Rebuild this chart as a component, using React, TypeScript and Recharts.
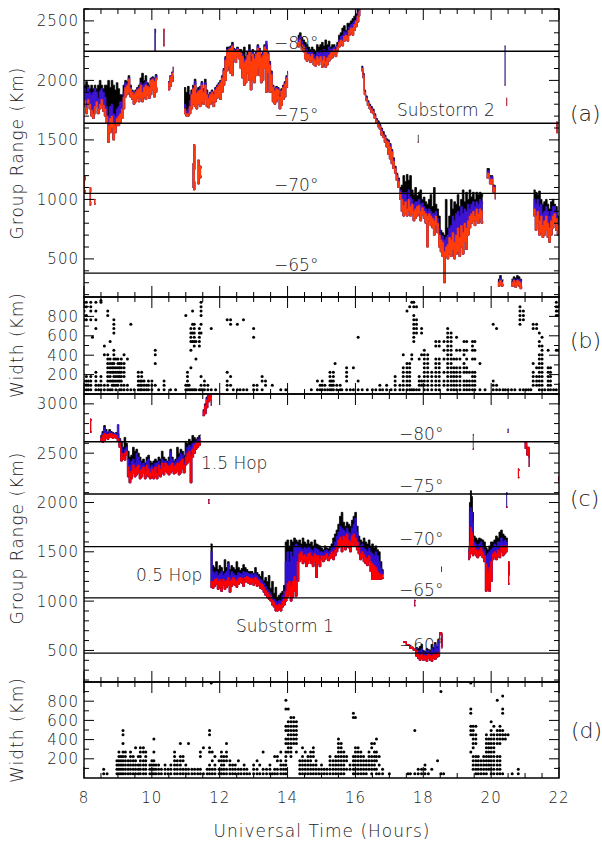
import React from "react"
import { ComposedChart, Area, Scatter, XAxis, YAxis, ReferenceLine, ReferenceArea } from "recharts"

const FONT = "'DejaVu Sans', sans-serif"
const L = 84
const R = 559

// x axis: universal time, hours
const hourTicks = [8, 8.5, 9, 9.5, 10, 10.5, 11, 11.5, 12, 12.5, 13, 13.5, 14, 14.5, 15, 15.5, 16, 16.5, 17, 17.5, 18, 18.5, 19, 19.5, 20, 20.5, 21, 21.5, 22]

// y axis ticks
const rangeTicksA = [200, 300, 400, 500, 600, 700, 800, 900, 1000, 1100, 1200, 1300, 1400, 1500, 1600, 1700, 1800, 1900, 2000, 2100, 2200, 2300, 2400, 2500, 2600]
const rangeTicksC = [200, 300, 400, 500, 600, 700, 800, 900, 1000, 1100, 1200, 1300, 1400, 1500, 1600, 1700, 1800, 1900, 2000, 2100, 2200, 2300, 2400, 2500, 2600, 2700, 2800, 2900, 3000, 3100]
const rangeLabels = [500, 1000, 1500, 2000, 2500, 3000]
const widthTicks = [100, 200, 300, 400, 500, 600, 700, 800, 900]
const widthLabels = [200, 400, 600, 800]

// latitude lines (group range, km)
const aLines = [2245, 1640, 1050, 380]
const cLines = [2616, 2086, 1552, 1032, 472]

// panel (a) echoes: [UT, red bottom, red top, blue top, black top]
const a01 = [
  [8.0, 1780, 1830, 1930, 1960], [8.05, 1720, 1770, 1900, 1990], [8.1, 1800, 1840, 1940, 1960],
  [8.15, 1760, 1800, 1900, 1930], [8.2, 1700, 1750, 1880, 1960], [8.25, 1680, 1720, 1900, 1930],
  [8.3, 1720, 1780, 1930, 1960], [8.35, 1780, 1820, 1900, 1930], [8.4, 1720, 1760, 1850, 1960],
  [8.45, 1760, 1800, 1910, 2000], [8.5, 1800, 1840, 1930, 1960], [8.55, 1740, 1790, 1900, 1930],
  [8.6, 1700, 1760, 1860, 1960], [8.65, 1640, 1700, 1780, 1960], [8.7, 1480, 1620, 1700, 2000],
  [8.75, 1560, 1680, 1780, 1940], [8.8, 1600, 1700, 1800, 2000], [8.85, 1500, 1640, 1720, 1960],
  [8.9, 1560, 1620, 1700, 1920], [8.95, 1620, 1680, 1760, 1980], [9.0, 1620, 1700, 1780, 1930],
  [9.05, 1640, 1720, 1820, 1880], [9.1, 1680, 1760, 1820, 1880], [9.15, 1760, 1860, 1900, 1960],
  [9.2, 1860, 1940, 1980, 2000], [9.25, 1880, 1960, 1970, 1990], [9.3, 1900, 2010, 2020, 2040],
  [9.35, 1860, 1930, 1940, 1960], [9.4, 1840, 1900, 1910, 1920], [9.45, 1800, 1880, 1890, 1900],
  [9.5, 1820, 1900, 1910, 1920], [9.55, 1850, 1920, 1930, 1940], [9.6, 1820, 1930, 1940, 1960],
  [9.65, 1850, 1960, 1980, 2020], [9.7, 1820, 1900, 1960, 2060], [9.75, 1860, 1940, 1970, 2000],
  [9.8, 1840, 1960, 1990, 2040], [9.85, 1880, 1950, 1960, 1980], [9.9, 1850, 1940, 1950, 1960],
  [9.95, 1880, 2000, 2010, 2020], [10.0, 1920, 2010, 2020, 2030], [10.05, 1860, 1990, 2010, 2020],
  [10.1, 1900, 2020, 2040, 2050], [10.15, 1940, 2000, 2005, 2010],
]
const a02 = [[10.08, 2250, 2250, 2430, 2430], [10.11, 2260, 2260, 2400, 2400]]
const a03 = [[10.34, 2290, 2430, 2430, 2430], [10.37, 2300, 2420, 2420, 2420]]
const a04 = [[10.48, 1920, 1980, 1990, 1990], [10.53, 1950, 2030, 2040, 2040], [10.58, 1990, 2060, 2070, 2070], [10.63, 2040, 2110, 2115, 2115]]
const a05 = [
  [10.95, 1720, 1760, 1800, 1940], [11.0, 1700, 1720, 1740, 1900], [11.05, 1700, 1720, 1760, 1950],
  [11.1, 1720, 1780, 1830, 1880], [11.15, 1760, 1880, 1900, 1920], [11.2, 1800, 1930, 1940, 1960],
  [11.25, 1780, 1960, 1990, 2010], [11.3, 1760, 1890, 1900, 1920], [11.35, 1800, 1910, 1920, 1940],
  [11.4, 1780, 1920, 1940, 1950], [11.45, 1820, 1960, 1980, 1990], [11.5, 1800, 1900, 1920, 1930],
  [11.55, 1840, 1960, 1980, 2010], [11.6, 1780, 1880, 1900, 1920], [11.65, 1770, 1850, 1870, 1880],
  [11.7, 1800, 1880, 1890, 1900], [11.75, 1820, 1900, 1910, 1920], [11.8, 1780, 1880, 1890, 1900],
  [11.85, 1820, 1920, 1930, 1940], [11.9, 1850, 1940, 1950, 1960], [11.95, 1860, 1960, 1970, 1980],
  [12.0, 1840, 1980, 1990, 2000], [12.05, 1900, 2020, 2030, 2040], [12.1, 1960, 2080, 2090, 2100],
  [12.15, 2000, 2170, 2190, 2200], [12.2, 2080, 2250, 2260, 2280], [12.25, 2120, 2260, 2270, 2280],
  [12.3, 2060, 2270, 2280, 2290], [12.35, 2040, 2290, 2300, 2320], [12.4, 2180, 2250, 2260, 2270],
  [12.45, 2150, 2240, 2250, 2260], [12.5, 2200, 2260, 2270, 2280], [12.55, 2180, 2240, 2250, 2260],
  [12.6, 2100, 2230, 2240, 2260], [12.65, 2020, 2200, 2220, 2240], [12.7, 1960, 2150, 2180, 2280],
  [12.75, 1980, 2170, 2190, 2200], [12.8, 2060, 2210, 2220, 2240], [12.85, 2000, 2240, 2260, 2300],
  [12.9, 1920, 2160, 2180, 2200], [12.95, 2000, 2220, 2240, 2260], [13.0, 1980, 2180, 2200, 2220],
  [13.05, 2040, 2220, 2230, 2240], [13.1, 2100, 2270, 2290, 2300], [13.15, 2040, 2240, 2260, 2270],
  [13.2, 1980, 2190, 2210, 2220], [13.25, 2000, 2210, 2230, 2240], [13.3, 2100, 2280, 2290, 2300],
  [13.35, 1900, 2260, 2330, 2300], [13.4, 2060, 2220, 2230, 2240], [13.45, 1900, 2130, 2150, 2160],
  [13.5, 1900, 2050, 2070, 2080], [13.55, 1820, 1940, 1950, 1960], [13.6, 1800, 1910, 1920, 1930],
  [13.65, 1820, 1930, 1940, 1950], [13.7, 1840, 1920, 1930, 1940], [13.75, 1760, 1860, 1870, 1880],
  [13.8, 1790, 1910, 1920, 1930], [13.85, 1840, 1940, 1950, 1960], [13.9, 1860, 1970, 1980, 1990],
  [13.95, 1940, 2020, 2030, 2040], [14.0, 2020, 2060, 2070, 2080],
]
const a06 = [
  [14.3, 2280, 2320, 2350, 2380], [14.35, 2300, 2340, 2370, 2400], [14.4, 2260, 2300, 2330, 2360],
  [14.45, 2240, 2280, 2300, 2340], [14.5, 2180, 2240, 2280, 2320], [14.55, 2160, 2220, 2260, 2300],
  [14.6, 2180, 2220, 2240, 2280], [14.65, 2150, 2200, 2240, 2260], [14.7, 2170, 2220, 2250, 2280],
  [14.75, 2130, 2180, 2220, 2260], [14.8, 2120, 2170, 2200, 2240], [14.85, 2150, 2200, 2240, 2300],
  [14.9, 2130, 2180, 2230, 2280], [14.95, 2160, 2200, 2250, 2300], [15.0, 2110, 2170, 2230, 2320],
  [15.05, 2140, 2200, 2260, 2290], [15.1, 2110, 2160, 2240, 2340], [15.15, 2130, 2190, 2250, 2300],
  [15.2, 2160, 2210, 2280, 2330], [15.25, 2180, 2230, 2260, 2280], [15.3, 2190, 2240, 2270, 2300],
  [15.35, 2220, 2260, 2280, 2300], [15.4, 2200, 2240, 2260, 2280], [15.45, 2240, 2280, 2300, 2320],
  [15.5, 2280, 2320, 2340, 2380], [15.55, 2300, 2340, 2370, 2400], [15.6, 2290, 2330, 2380, 2440],
  [15.65, 2330, 2370, 2410, 2460], [15.7, 2340, 2380, 2400, 2420], [15.75, 2330, 2370, 2420, 2480],
  [15.8, 2380, 2420, 2450, 2480], [15.85, 2400, 2440, 2470, 2500], [15.9, 2380, 2440, 2480, 2520],
  [15.95, 2420, 2470, 2500, 2540], [16.0, 2450, 2500, 2530, 2560], [16.05, 2490, 2540, 2570, 2600],
  [16.1, 2540, 2580, 2600, 2600], [16.13, 2600, 2600, 2600, 2600],
]
const a07 = [
  [16.18, 2080, 2100, 2110, 2120], [16.22, 2020, 2040, 2050, 2060], [16.26, 1880, 1900, 1910, 1920],
  [16.3, 1830, 1850, 1860, 1870], [16.35, 1790, 1810, 1820, 1830], [16.4, 1760, 1780, 1790, 1800],
  [16.45, 1730, 1760, 1770, 1780], [16.5, 1720, 1740, 1750, 1760], [16.55, 1680, 1700, 1710, 1720],
  [16.6, 1640, 1660, 1670, 1680], [16.65, 1610, 1640, 1650, 1660], [16.7, 1590, 1610, 1620, 1630],
  [16.75, 1540, 1570, 1590, 1600], [16.8, 1520, 1540, 1550, 1570], [16.85, 1480, 1520, 1530, 1540],
  [16.9, 1440, 1490, 1500, 1510], [16.95, 1380, 1480, 1490, 1500], [17.0, 1340, 1440, 1460, 1470],
  [17.05, 1300, 1400, 1410, 1420], [17.1, 1260, 1320, 1340, 1350], [17.15, 1220, 1260, 1270, 1280],
  [17.2, 1160, 1200, 1210, 1220], [17.25, 1100, 1150, 1170, 1180], [17.3, 1000, 1060, 1080, 1100],
  [17.35, 900, 1000, 1060, 1120], [17.4, 860, 950, 1040, 1200], [17.45, 880, 980, 1060, 1150],
  [17.5, 860, 920, 1000, 1210], [17.55, 900, 1000, 1080, 1160], [17.6, 860, 940, 1020, 1200],
  [17.65, 880, 960, 1000, 1080], [17.7, 820, 900, 960, 1040], [17.75, 840, 920, 980, 1100],
  [17.8, 860, 940, 980, 1030], [17.85, 880, 950, 1000, 1060], [17.9, 820, 900, 960, 1080],
  [17.95, 870, 930, 970, 1000], [18.0, 840, 900, 940, 1020], [18.05, 800, 880, 920, 980],
  [18.1, 600, 860, 900, 960], [18.15, 820, 880, 920, 1000], [18.2, 780, 860, 900, 1040],
  [18.25, 760, 840, 880, 940], [18.3, 700, 820, 880, 1100], [18.35, 780, 860, 900, 960],
  [18.4, 720, 800, 840, 920], [18.45, 600, 700, 760, 860], [18.5, 560, 660, 700, 740],
  [18.55, 520, 640, 690, 720], [18.6, 300, 560, 660, 700], [18.65, 520, 600, 680, 1000],
  [18.7, 500, 620, 700, 760], [18.75, 540, 680, 760, 860], [18.8, 520, 660, 780, 1000],
  [18.85, 580, 720, 860, 920], [18.9, 500, 640, 820, 980], [18.95, 540, 700, 880, 960],
  [19.0, 560, 760, 900, 1040], [19.05, 520, 680, 860, 940], [19.1, 600, 780, 940, 1000],
  [19.15, 540, 720, 880, 1080], [19.2, 640, 800, 920, 980], [19.25, 580, 760, 900, 1060],
  [19.3, 700, 820, 960, 1000], [19.35, 760, 860, 920, 1080], [19.4, 800, 880, 960, 1020],
  [19.45, 820, 900, 980, 1060], [19.5, 780, 860, 940, 1000], [19.55, 820, 920, 980, 1060],
  [19.6, 800, 880, 960, 1040], [19.65, 840, 920, 1000, 1060], [19.7, 800, 900, 980, 1050],
  [19.75, 820, 880, 960, 1020],
]
const a08 = [[17.84, 1480, 1480, 1480, 1540], [17.86, 1480, 1480, 1480, 1540]]
const a09 = [[19.87, 1180, 1220, 1240, 1260], [19.95, 1130, 1170, 1190, 1200], [20.05, 1060, 1100, 1110, 1120], [20.12, 1000, 1020, 1050, 1060]]
const a10 = [[20.2, 270, 300, 310, 330], [20.25, 280, 320, 340, 360], [20.3, 270, 300, 310, 320], [20.35, 290, 310, 320, 330]]
const a11 = [[20.4, 1960, 1960, 2290, 2290], [20.42, 1960, 1960, 2290, 2290]]
const a12 = [[20.45, 1790, 1850, 1850, 1850], [20.47, 1790, 1850, 1850, 1850]]
const a13 = [[20.6, 270, 300, 310, 330], [20.65, 280, 320, 330, 350], [20.7, 260, 300, 320, 340], [20.75, 280, 320, 330, 360], [20.8, 270, 310, 330, 350], [20.85, 250, 300, 320, 330], [20.9, 270, 300, 310, 320]]
const a14 = [
  [21.25, 860, 920, 1000, 1080], [21.3, 740, 860, 960, 1060], [21.35, 800, 900, 1000, 1040],
  [21.4, 700, 820, 940, 1070], [21.45, 720, 860, 960, 1000], [21.5, 680, 780, 880, 960],
  [21.55, 700, 820, 900, 980], [21.6, 740, 860, 940, 1000], [21.65, 680, 800, 900, 960],
  [21.7, 640, 760, 860, 920], [21.75, 700, 820, 900, 980], [21.8, 760, 860, 940, 1000],
  [21.85, 800, 880, 940, 960], [21.9, 740, 840, 900, 940], [21.95, 700, 780, 820, 860], [22.0, 720, 760, 800, 840],
]
const a15 = [[21.92, 1560, 1650, 1650, 1650], [21.96, 1570, 1640, 1640, 1640]]
const a16 = [[8.0, 1050, 1200, 1200, 1200], [8.03, 1080, 1160, 1160, 1160]]
const a17 = [[8.17, 950, 1100, 1100, 1100], [8.2, 980, 1060, 1060, 1060]]
const a18 = [[8.3, 960, 1000, 1000, 1000], [8.33, 965, 995, 995, 995]]
const a19 = [[11.2, 1100, 1300, 1300, 1300], [11.23, 1080, 1460, 1460, 1460], [11.27, 1150, 1250, 1250, 1250]]
const a20 = [[11.35, 1130, 1330, 1330, 1330], [11.4, 1180, 1280, 1280, 1280], [11.45, 1200, 1260, 1260, 1260]]

// panel (c) echoes: [UT, red bottom, red top, blue top, black top]
const c01 = [[8.18, 2710, 2846, 2846, 2846], [8.21, 2720, 2830, 2830, 2830]]
const c02 = [
  [8.48, 2620, 2650, 2660, 2680], [8.53, 2610, 2680, 2700, 2720], [8.58, 2630, 2700, 2760, 2780],
  [8.63, 2650, 2690, 2720, 2740], [8.68, 2640, 2690, 2700, 2710], [8.73, 2660, 2700, 2720, 2740],
  [8.78, 2660, 2700, 2710, 2720], [8.83, 2650, 2690, 2700, 2710], [8.88, 2660, 2690, 2700, 2700],
  [8.93, 2650, 2680, 2700, 2710], [8.98, 2620, 2650, 2790, 2700], [9.03, 2560, 2620, 2640, 2650],
  [9.08, 2420, 2500, 2560, 2620], [9.13, 2440, 2460, 2500, 2560], [9.18, 2430, 2500, 2540, 2660],
  [9.23, 2480, 2520, 2560, 2600], [9.28, 2260, 2360, 2440, 2520], [9.33, 2200, 2300, 2380, 2460],
  [9.38, 2240, 2320, 2420, 2480], [9.43, 2300, 2380, 2440, 2560], [9.48, 2260, 2340, 2400, 2520],
  [9.53, 2280, 2360, 2500, 2540], [9.58, 2300, 2380, 2460, 2500], [9.63, 2240, 2320, 2420, 2460],
  [9.68, 2260, 2340, 2380, 2420], [9.73, 2300, 2360, 2400, 2440], [9.78, 2240, 2320, 2360, 2400],
  [9.83, 2280, 2380, 2420, 2460], [9.88, 2260, 2340, 2440, 2480], [9.93, 2240, 2300, 2360, 2420],
  [9.98, 2260, 2340, 2380, 2400], [10.03, 2240, 2320, 2360, 2420], [10.08, 2260, 2360, 2400, 2440],
  [10.13, 2240, 2300, 2400, 2420], [10.18, 2280, 2380, 2420, 2460], [10.23, 2260, 2340, 2380, 2440],
  [10.28, 2300, 2400, 2440, 2520], [10.33, 2280, 2360, 2420, 2460], [10.38, 2320, 2400, 2420, 2440],
  [10.43, 2300, 2380, 2400, 2420], [10.48, 2280, 2360, 2420, 2460], [10.53, 2300, 2380, 2520, 2540],
  [10.58, 2320, 2400, 2440, 2460], [10.63, 2290, 2360, 2400, 2420], [10.68, 2300, 2380, 2420, 2440],
  [10.73, 2320, 2400, 2440, 2560], [10.78, 2280, 2400, 2460, 2500], [10.83, 2300, 2420, 2500, 2540],
  [10.88, 2340, 2440, 2480, 2520], [10.93, 2300, 2380, 2420, 2480], [10.98, 2380, 2460, 2520, 2620],
  [11.03, 2400, 2500, 2560, 2600], [11.08, 2420, 2520, 2580, 2640], [11.13, 2200, 2480, 2560, 2620],
  [11.18, 2460, 2540, 2600, 2680], [11.23, 2500, 2580, 2620, 2660], [11.28, 2540, 2600, 2620, 2640],
  [11.33, 2560, 2610, 2640, 2660], [11.38, 2580, 2620, 2650, 2680], [11.43, 2600, 2640, 2660, 2690],
]
const c03 = [[11.5, 2880, 2920, 2930, 2940], [11.55, 2900, 2980, 2990, 3000], [11.6, 2960, 3040, 3060, 3070], [11.65, 3020, 3080, 3090, 3100], [11.7, 3040, 3090, 3100, 3100], [11.75, 2980, 3040, 3060, 3070]]
const c04 = [[11.67, 1990, 2030, 2030, 2030], [11.69, 1995, 2025, 2025, 2025]]
const c05 = [
  [11.73, 1140, 1200, 1500, 1580], [11.78, 1130, 1200, 1300, 1360], [11.83, 1150, 1220, 1280, 1340],
  [11.88, 1170, 1230, 1300, 1400], [11.93, 1120, 1200, 1260, 1320], [11.98, 1140, 1220, 1280, 1360],
  [12.03, 1100, 1200, 1300, 1340], [12.08, 1160, 1220, 1260, 1300], [12.13, 1120, 1200, 1280, 1420],
  [12.18, 1140, 1210, 1300, 1340], [12.23, 1160, 1240, 1380, 1400], [12.28, 1090, 1200, 1260, 1320],
  [12.33, 1150, 1220, 1300, 1360], [12.38, 1170, 1240, 1280, 1340], [12.43, 1160, 1220, 1260, 1320],
  [12.48, 1140, 1200, 1260, 1400], [12.53, 1170, 1230, 1290, 1340], [12.58, 1190, 1240, 1280, 1310],
  [12.63, 1180, 1230, 1270, 1330], [12.68, 1150, 1210, 1300, 1370], [12.73, 1190, 1240, 1290, 1340],
  [12.78, 1200, 1250, 1290, 1320], [12.83, 1180, 1240, 1280, 1300], [12.88, 1170, 1230, 1270, 1300],
  [12.93, 1190, 1230, 1280, 1300], [12.98, 1160, 1220, 1260, 1280], [13.03, 1180, 1240, 1280, 1340],
  [13.08, 1150, 1220, 1260, 1290], [13.13, 1160, 1210, 1240, 1270], [13.18, 1130, 1180, 1220, 1250],
  [13.23, 1120, 1170, 1210, 1300], [13.28, 1090, 1140, 1180, 1210], [13.33, 1060, 1110, 1150, 1240],
  [13.38, 1040, 1090, 1120, 1200], [13.43, 1020, 1070, 1100, 1260], [13.48, 1000, 1050, 1080, 1130],
  [13.53, 960, 1010, 1040, 1200], [13.58, 940, 990, 1020, 1080], [13.63, 900, 960, 1000, 1140],
  [13.68, 900, 950, 990, 1040], [13.73, 920, 970, 1010, 1060], [13.78, 900, 960, 1000, 1080],
  [13.83, 940, 1000, 1060, 1100], [13.88, 960, 1040, 1100, 1160], [13.93, 1000, 1100, 1400, 1600],
  [13.98, 1040, 1180, 1500, 1620], [14.03, 1060, 1200, 1400, 1560], [14.08, 1000, 1150, 1500, 1620],
  [14.13, 1040, 1200, 1450, 1600], [14.18, 1100, 1250, 1560, 1640], [14.23, 1050, 1200, 1580, 1620],
  [14.28, 1200, 1400, 1560, 1600], [14.33, 1400, 1480, 1560, 1620], [14.38, 1420, 1500, 1540, 1580],
  [14.43, 1380, 1460, 1520, 1640], [14.48, 1400, 1470, 1550, 1600], [14.53, 1350, 1450, 1530, 1580],
  [14.58, 1380, 1480, 1560, 1620], [14.63, 1420, 1490, 1540, 1580], [14.68, 1380, 1460, 1520, 1600],
  [14.73, 1350, 1440, 1500, 1560], [14.78, 1400, 1480, 1540, 1620], [14.83, 1240, 1460, 1530, 1580],
  [14.88, 1380, 1460, 1520, 1570], [14.93, 1350, 1430, 1500, 1560], [14.98, 1420, 1460, 1500, 1540],
  [15.03, 1400, 1450, 1490, 1520], [15.08, 1420, 1460, 1510, 1560], [15.13, 1440, 1480, 1520, 1540],
  [15.18, 1410, 1450, 1500, 1530], [15.23, 1430, 1470, 1510, 1550], [15.28, 1450, 1500, 1540, 1580],
  [15.33, 1420, 1480, 1560, 1640], [15.38, 1460, 1520, 1600, 1680], [15.43, 1500, 1560, 1660, 1720],
  [15.48, 1540, 1620, 1700, 1780], [15.53, 1560, 1650, 1760, 1860], [15.58, 1500, 1620, 1740, 1900],
  [15.63, 1560, 1660, 1720, 1800], [15.68, 1520, 1640, 1700, 1760], [15.73, 1580, 1680, 1740, 1800],
  [15.78, 1540, 1620, 1700, 1780], [15.83, 1500, 1600, 1680, 1760], [15.88, 1560, 1660, 1740, 1820],
  [15.93, 1600, 1680, 1780, 1860], [15.98, 1560, 1640, 1840, 1900], [16.03, 1520, 1600, 1700, 1760],
  [16.08, 1480, 1540, 1600, 1660], [16.13, 1420, 1480, 1560, 1620], [16.18, 1440, 1500, 1580, 1600],
  [16.23, 1400, 1470, 1540, 1640], [16.28, 1380, 1440, 1520, 1600], [16.33, 1360, 1420, 1500, 1580],
  [16.38, 1400, 1460, 1540, 1620], [16.43, 1300, 1400, 1500, 1560], [16.48, 1220, 1380, 1480, 1580],
  [16.53, 1220, 1360, 1460, 1540], [16.58, 1220, 1340, 1500, 1560], [16.63, 1220, 1300, 1460, 1520],
  [16.68, 1220, 1280, 1400, 1500], [16.73, 1220, 1260, 1340, 1400], [16.78, 1230, 1270, 1300, 1320],
  [16.82, 1240, 1260, 1270, 1280],
]
const c06 = [
  [17.41, 580, 590, 590, 590], [17.5, 550, 560, 560, 560], [17.6, 520, 535, 535, 535], [17.7, 500, 515, 515, 515],
  [17.78, 440, 500, 520, 530], [17.83, 420, 470, 500, 520], [17.88, 400, 450, 500, 540], [17.93, 420, 460, 520, 560],
  [17.98, 400, 440, 480, 500], [18.03, 410, 450, 470, 490], [18.08, 390, 440, 500, 520], [18.13, 420, 470, 500, 510],
  [18.18, 400, 450, 480, 500], [18.23, 390, 440, 520, 560], [18.28, 420, 460, 500, 530], [18.33, 410, 460, 560, 580],
  [18.38, 430, 470, 520, 540], [18.43, 440, 480, 600, 610], [18.48, 660, 680, 680, 680], [18.55, 520, 540, 540, 540],
]
const c07 = [[17.74, 950, 1010, 1010, 1010], [17.76, 955, 1000, 1000, 1000]]
const c08 = [[18.53, 1300, 1320, 1345, 1345], [18.55, 1300, 1320, 1345, 1345]]
const c09 = [
  [19.33, 1420, 1500, 1520, 1540], [19.36, 1440, 1600, 1900, 2000], [19.39, 1480, 1750, 1950, 2120],
  [19.42, 1500, 1700, 1900, 2060], [19.45, 1460, 1650, 1800, 1900], [19.48, 1480, 1560, 1600, 1660],
  [19.53, 1460, 1520, 1580, 1640], [19.58, 1440, 1500, 1560, 1620], [19.63, 1460, 1520, 1580, 1640],
  [19.68, 1480, 1540, 1600, 1630], [19.73, 1440, 1500, 1560, 1620], [19.78, 1400, 1460, 1520, 1600],
  [19.83, 1100, 1380, 1460, 1540], [19.88, 1120, 1300, 1480, 1520], [19.93, 1100, 1340, 1500, 1560],
  [19.98, 1200, 1400, 1520, 1600], [20.03, 1420, 1480, 1540, 1600], [20.08, 1440, 1500, 1580, 1620],
  [20.13, 1420, 1480, 1560, 1660], [20.18, 1460, 1520, 1600, 1640], [20.23, 1440, 1500, 1600, 1700],
  [20.28, 1500, 1560, 1640, 1720], [20.33, 1460, 1540, 1600, 1680], [20.38, 1480, 1560, 1620, 1660],
  [20.43, 1500, 1560, 1600, 1640], [20.48, 1500, 1540, 1560, 1580],
]
const c10 = [[20.5, 1170, 1400, 1400, 1400], [20.53, 1180, 1260, 1260, 1260]]
const c11 = [[19.46, 2540, 2540, 2540, 2690], [19.48, 2550, 2550, 2550, 2680]]
const c12 = [[20.45, 1950, 1950, 2100, 2100], [20.47, 1960, 1960, 2080, 2080]]
const c13 = [[20.49, 2710, 2710, 2745, 2745], [20.51, 2710, 2710, 2745, 2745]]
const c14 = [[20.79, 2250, 2340, 2340, 2340], [20.82, 2260, 2320, 2320, 2320]]
const c15 = [[20.99, 2550, 2610, 2610, 2610], [21.05, 2480, 2560, 2560, 2560], [21.12, 2360, 2450, 2450, 2450]]
const c16 = [[21.97, 2220, 2260, 2260, 2260], [21.99, 2225, 2255, 2255, 2255]]

// spectral width columns: [UT, widths (km)]
const bCols: [number, number[]][] = [
  [8.0, [945, 900, 855, 810, 765, 135, 90, 45]], [8.07, [945, 900, 810, 765, 180, 135, 90, 45]],
  [8.13, [135, 90, 45]], [8.2, [945, 900, 855, 765, 180, 135, 90, 45]], [8.25, [585]],
  [8.35, [945, 855, 765, 675, 225, 180, 135, 90, 45]], [8.43, [90, 45]], [8.5, [965, 945, 180, 135, 90, 45]],
  [8.6, [495, 405, 90, 45]], [8.7, [855, 810, 405, 360, 315, 270, 225, 180, 135, 90, 45]],
  [8.77, [540, 360, 315, 270, 225, 180, 135, 45]], [8.83, [315, 270, 225, 135, 90, 45]],
  [8.88, [765, 720, 675, 630, 450, 405, 360, 315, 270, 225, 180, 135, 90]],
  [8.94, [360, 270, 225, 180, 135, 90, 45]], [9.0, [360, 315, 270, 225, 180, 135, 90]],
  [9.05, [315, 270, 225, 180, 135, 45]], [9.1, [360, 315, 270, 225, 180, 135, 90, 45]],
  [9.18, [405, 315, 270, 225, 180, 90, 45]], [9.28, [360, 90, 45]], [9.38, [720, 45]],
  [9.48, [45]], [9.6, [225, 180, 135, 90, 45]], [9.66, [135, 90, 45]], [9.7, [225, 180, 135, 90, 45]],
  [9.77, [135, 90, 45]], [9.84, [90, 45]], [9.9, [135, 90, 45]], [10.0, [135, 90, 45]],
  [10.1, [450, 405, 315, 90]], [10.2, [45]], [10.36, [135, 90, 45]], [10.55, [45]], [10.7, [45]],
  [11.0, [810, 90, 45]], [11.05, [225, 180, 135, 90, 45]], [11.1, [90, 45]],
  [11.15, [675, 630, 585, 540, 450, 270, 45]], [11.2, [855, 720, 630, 540, 45]],
  [11.25, [720, 675, 630, 585, 540, 495, 45]], [11.3, [540, 360, 45]],
  [11.4, [675, 630, 585, 540, 495, 45]], [11.45, [945, 900, 855, 810, 720, 630, 180, 90, 45]],
  [11.5, [45]], [11.55, [135, 90, 45]], [11.65, [90, 45]], [11.75, [675, 45]], [11.88, [45]],
  [12.22, [765, 225, 135, 90, 45]], [12.32, [765, 720, 180, 90]], [12.4, [45]], [12.52, [720, 45]],
  [12.6, [45]], [12.7, [765, 45]], [12.8, [45]], [13.0, [675, 585, 90, 45]], [13.1, [90, 45]],
  [13.25, [180, 135, 45]], [13.35, [135, 90]], [13.55, [90]], [13.8, [45]], [13.95, [45]],
  [14.7, [45]], [14.88, [135, 45]], [14.96, [90, 45]], [15.02, [135, 90, 45]], [15.1, [90, 45]],
  [15.18, [45]], [15.25, [225, 180, 135, 90, 45]], [15.3, [135, 90, 45]], [15.35, [225, 180, 135, 90, 45]],
  [15.4, [315]], [15.45, [90, 45]], [15.55, [90, 45]], [15.6, [45]], [15.74, [270, 225, 180, 135, 45]],
  [15.85, [45]], [15.94, [270, 45]], [16.08, [585, 135, 45]], [16.2, [45]], [16.35, [45]],
  [16.5, [45]], [16.6, [45]], [16.72, [90, 45]], [16.8, [45]], [16.92, [90, 45]], [17.05, [45]],
  [17.17, [180, 135, 90, 45]], [17.31, [90, 45]], [17.41, [405, 270, 225, 180, 135, 90, 45]],
  [17.52, [855, 315, 270, 225, 180, 135, 90, 45]], [17.6, [900, 315, 270, 225, 180, 135, 90, 45]],
  [17.66, [945, 405, 360, 45]], [17.72, [945, 900, 810, 765, 720, 675, 630, 585, 540, 45]],
  [17.8, [900, 765, 720, 675, 630, 45]], [17.88, [360, 180, 135, 90, 45]], [17.95, [675, 630, 405, 135, 90]],
  [18.03, [450, 405, 360, 315, 270, 225, 180, 135, 90, 45]], [18.13, [405, 360, 315, 270, 225, 180, 135, 90, 45]],
  [18.25, [225, 180, 135, 90, 45]], [18.37, [540, 495, 360, 315, 270, 225, 180, 135, 90, 45]],
  [18.47, [540, 495, 360, 315, 270, 225, 180, 135, 90, 45]], [18.61, [540, 450, 360, 225, 135, 90]],
  [18.72, [675, 630, 585, 540, 495, 450, 405, 360, 315, 270, 225, 180, 135, 90, 45]],
  [18.82, [630, 585, 540, 495, 450, 405, 360, 315, 270, 225, 180, 135, 90, 45]],
  [18.9, [360, 270, 225, 180, 135, 90, 45]], [18.98, [585, 450, 360, 270, 225, 180, 135, 90, 45]],
  [19.08, [450, 360, 270, 225, 180, 135, 90, 45]], [19.2, [540, 450, 405, 315, 270, 225, 135, 90, 45]],
  [19.28, [540, 450, 360, 270, 225, 135, 90, 45]], [19.36, [225, 135, 90, 45]],
  [19.45, [540, 495, 450, 360, 225, 180, 135, 90, 45]], [19.52, [540, 450, 360, 225, 180, 135, 90, 45]],
  [19.67, [315, 45]], [19.82, [45]], [20.06, [720, 135, 90, 45]], [20.16, [675, 90, 45]],
  [20.25, [45]], [20.35, [45]], [20.42, [45]], [20.5, [45]], [20.6, [45]], [20.7, [45]],
  [20.85, [900, 855, 810, 765, 720, 45]], [20.95, [855, 810, 765, 45]], [21.03, [45]], [21.1, [45]],
  [21.17, [45]], [21.24, [720, 675, 315, 225, 180, 135, 90]], [21.34, [720, 675, 270, 180, 135, 90]],
  [21.42, [630, 540, 495, 405, 360, 315, 270, 225, 180, 135, 90, 45]],
  [21.5, [585, 495, 450, 405, 360, 315, 270, 225, 180, 135, 90, 45]], [21.58, [45]],
  [21.68, [450, 270, 225, 180, 135, 90, 45]], [21.75, [270, 225, 180, 135, 90, 45]], [21.84, [45]],
  [21.92, [945, 900, 855, 810, 450, 45]], [21.98, [900, 855, 810, 450]],
]
const dCols: [number, number[]][] = [
  [8.58, [90, 45]], [8.68, [45]], [8.97, [180, 135, 90, 45]], [9.03, [270, 225, 180, 135, 90, 45]],
  [9.09, [225, 180, 135, 90, 45]], [9.15, [495, 450, 360, 270, 225, 180, 135, 90, 45]],
  [9.22, [270, 225, 180, 135, 90, 45]], [9.3, [180, 135, 90, 45]], [9.37, [270, 225, 180, 135, 90, 45]],
  [9.45, [225, 180, 135, 90, 45]], [9.52, [315, 180, 135, 90, 45]], [9.6, [225, 135, 90, 45]],
  [9.66, [315, 270, 225, 180, 135, 90, 45]], [9.75, [315, 270, 180, 135, 90, 45]],
  [9.82, [270, 225, 180, 135, 90, 45]], [9.94, [135, 90, 45]], [10.0, [180, 135, 90, 45]],
  [10.06, [405, 270, 180, 135, 90, 45]], [10.12, [135, 90, 45]], [10.2, [135, 90, 45]], [10.28, [90, 45]],
  [10.39, [135, 90, 45]], [10.48, [90, 45]], [10.56, [135, 90, 45]], [10.67, [270, 225, 180, 135, 90, 45]],
  [10.75, [180, 135, 90, 45]], [10.84, [360, 225, 180, 135, 90, 45]], [10.92, [225, 180, 90, 45]],
  [11.0, [135, 90, 45]], [11.08, [360, 90, 45]], [11.18, [90, 45]], [11.26, [90, 45]], [11.35, [90, 45]],
  [11.43, [270, 225, 90, 45]], [11.52, [315, 45]], [11.63, [90, 45]], [11.7, [495, 450, 315, 270, 135, 90, 45]],
  [11.75, [990]], [11.78, [270, 180, 90, 45]], [11.86, [225, 135, 90, 45]], [11.98, [180, 90, 45]],
  [12.05, [270, 225, 180, 135, 90, 45]], [12.12, [225, 180, 135, 90, 45]], [12.2, [360, 270, 225, 180, 90, 45]],
  [12.3, [180, 135, 90, 45]], [12.38, [135, 90, 45]], [12.46, [135, 90, 45]], [12.55, [180, 90, 45]],
  [12.63, [90, 45]], [12.72, [135, 90, 45]], [12.8, [90, 45]], [12.88, [45]], [13.0, [135, 90, 45]],
  [13.1, [180, 90, 45]], [13.18, [135, 45]], [13.28, [270, 90, 45]], [13.38, [90, 45]], [13.48, [135, 90, 45]],
  [13.55, [45]], [13.62, [225, 90, 45]], [13.7, [225, 180, 90, 45]], [13.8, [270, 180, 135, 90, 45]],
  [13.88, [135, 90, 45]], [13.95, [810, 720, 540, 495, 405, 360, 270, 225, 180, 135, 90, 45]],
  [14.02, [720, 585, 540, 495, 450, 405, 360, 315, 270]], [14.1, [630, 585, 540, 495, 450, 405, 360, 315, 270, 225]],
  [14.18, [630, 585, 540, 495, 450, 405, 360]], [14.26, [585, 540, 495, 450, 405, 360, 270]],
  [14.36, [180, 135, 90, 45]], [14.44, [315, 225, 180, 135, 90, 45]], [14.52, [270, 180, 135, 90, 45]],
  [14.6, [225, 180, 135, 90, 45]], [14.68, [270, 225, 180, 135, 90, 45]], [14.76, [315, 270, 225, 135, 90, 45]],
  [14.84, [180, 135, 90, 45]], [14.92, [90, 45]], [15.0, [135, 90, 45]], [15.08, [90, 45]], [15.16, [90, 45]],
  [15.25, [225, 180, 135, 90, 45]], [15.34, [180, 135, 90, 45]], [15.42, [225, 180, 135, 90, 45]],
  [15.5, [405, 360, 315, 270, 225, 180, 135, 90, 45]], [15.58, [360, 315, 270, 225, 180, 135, 90, 45]],
  [15.66, [270, 225, 180, 135, 90, 45]], [15.74, [225, 180, 90]], [15.84, [135, 90]],
  [15.94, [675, 630, 225, 180, 135, 90, 45]], [16.0, [630, 315, 270, 225, 180, 135, 90, 45]],
  [16.08, [315, 270, 225, 180, 135, 90, 45]], [16.16, [270, 225, 180, 135, 90, 45]],
  [16.24, [225, 180, 135, 90, 45]], [16.32, [180, 135, 90, 45]], [16.4, [270, 225, 180, 135, 90]],
  [16.48, [360, 315, 225, 180, 135, 90, 45]], [16.56, [360, 270, 225, 180, 135, 90]],
  [16.62, [405, 270, 225, 180, 90, 45]], [16.7, [225, 135, 45]], [16.8, [90, 45]], [17.0, [45]],
  [17.55, [45]], [17.62, [45]], [17.75, [495, 45]], [17.85, [90, 45]], [17.95, [90, 45]], [18.05, [135, 90, 45]],
  [18.15, [45]], [18.25, [90]], [18.42, [180]], [18.52, [900, 45]], [18.6, [45]], [19.4, [990]],
  [19.4, [720, 675, 540, 495, 450, 270]], [19.47, [540, 495, 450, 405, 360, 315, 225, 180, 135, 90]],
  [19.55, [540, 450, 405, 360, 225, 180, 135, 90, 45]], [19.62, [225, 180, 135, 90, 45]],
  [19.7, [180, 135, 90, 45]], [19.78, [225, 180, 135, 90, 45]], [19.86, [450, 405, 360, 315, 270, 225, 180, 135, 90, 45]],
  [19.93, [405, 360, 315, 270, 225, 180, 135, 90]], [20.0, [585, 495, 450, 405, 360, 315, 270, 225, 180, 135, 90, 45]],
  [20.08, [540, 450, 405, 360, 315, 270, 225, 180, 135, 90, 45]], [20.18, [810, 495, 450, 405, 360, 225, 180, 135, 90, 45]],
  [20.26, [540, 495, 450, 405, 360, 225, 180, 135, 90, 45]], [20.34, [855, 720, 675, 495, 450, 405, 45]],
  [20.42, [450, 405]], [20.5, [450]], [20.62, [45]], [20.8, [90, 45]],
]

const aSegs = [a16, a01, a17, a18, a02, a03, a04, a05, a19, a20, a06, a07, a08, a09, a10, a11, a12, a13, a14, a15]
const cSegs = [c01, c02, c03, c04, c05, c06, c07, c08, c09, c11, c12, c10, c13, c14, c15, c16]

function toRows(segs: number[][][]) {
  const out: any[] = []
  segs.forEach((seg) => {
    seg.forEach(([t, lo, r, b, k]) => out.push({ t, lo, r, b, k }))
    out.push({ t: seg[seg.length - 1][0] + 0.001, lo: null, r: null, b: null, k: null })
  })
  return out
}
const toDots = (cols: [number, number[]][]) => cols.flatMap(([t, ws]) => ws.map((w) => ({ t, w })))

function makeYTick(labels: number[], majorStep: number) {
  return (p: any) => {
    const v = p.payload.value
    const y = p.y
    const len = v % majorStep === 0 ? 10 : 5
    return (
      <g>
        <line x1={L} x2={L + len} y1={y} y2={y} stroke="#000" />
        <line x1={R} x2={R - len} y1={y} y2={y} stroke="#000" />
        {labels.includes(v) ? (
          <text x={79} y={y + 5.5} textAnchor="end" fontSize={15} letterSpacing={1} fontWeight={300} fill="#222" fontFamily={FONT}>
            {v}
          </text>
        ) : null}
      </g>
    )
  }
}

function makeXTick(top: number, bottom: number, showLabels: boolean) {
  return (p: any) => {
    const v = p.payload.value
    const x = p.x
    const major = v % 2 === 0
    const len = major ? 11 : 5
    return (
      <g>
        <line x1={x} x2={x} y1={bottom} y2={bottom - len} stroke="#000" />
        <line x1={x} x2={x} y1={top} y2={top + len} stroke="#000" />
        {showLabels && major ? (
          <text x={x} y={bottom + 25} textAnchor="middle" fontSize={15} letterSpacing={1} fontWeight={300} fill="#222" fontFamily={FONT}>
            {v}
          </text>
        ) : null}
      </g>
    )
  }
}

function RangePanel(props: any) {
  const { top, height, mTop, mBottom, domain, rows, lines, ticks, colors } = props
  return (
    <div style={{ position: "absolute", left: 0, top }}>
      <ComposedChart width={602} height={height} data={rows} margin={{ top: mTop, right: 602 - R, bottom: mBottom - 1, left: 0 }}>
        <XAxis dataKey="t" type="number" domain={[8, 22]} ticks={hourTicks} interval={0} allowDataOverflow height={1}
          axisLine={false} tickLine={false} tick={makeXTick(mTop, height - mBottom, false)} />
        <YAxis type="number" domain={domain} ticks={ticks} interval={0} allowDataOverflow width={L}
          axisLine={false} tickLine={false} tick={makeYTick(rangeLabels, 500)} />
        <Area type="stepAfter" dataKey={(d: any) => (d.lo == null ? null : [d.lo, d.k])} fill={colors.k} stroke={colors.k}
          strokeWidth={0.8} fillOpacity={1} dot={false} activeDot={false} isAnimationActive={false} />
        <Area type="stepAfter" dataKey={(d: any) => (d.lo == null ? null : [d.lo, d.b])} fill={colors.b} stroke={colors.b}
          strokeWidth={0.8} fillOpacity={1} dot={false} activeDot={false} isAnimationActive={false} />
        <Area type="stepAfter" dataKey={(d: any) => (d.lo == null ? null : [d.lo, d.r])} fill={colors.r} stroke={colors.r}
          strokeWidth={0.8} fillOpacity={1} dot={false} activeDot={false} isAnimationActive={false} />
        {lines.map((v: number) => (
          <ReferenceLine key={v} y={v} stroke="#000" strokeWidth={1.3} />
        ))}
        <ReferenceArea x1={8} x2={22} y1={domain[0]} y2={domain[1]} fill="none" stroke="#000" strokeWidth={1.4} />
      </ComposedChart>
    </div>
  )
}

function WidthPanel(props: any) {
  const { top, height, mTop, mBottom, dots, showLabels } = props
  return (
    <div style={{ position: "absolute", left: 0, top }}>
      <ComposedChart width={602} height={height} data={dots} margin={{ top: mTop, right: 602 - R, bottom: mBottom - 1, left: 0 }}>
        <XAxis dataKey="t" type="number" domain={[8, 22]} ticks={hourTicks} interval={0} allowDataOverflow height={1}
          axisLine={false} tickLine={false} tick={makeXTick(mTop, height - mBottom, showLabels)} />
        <YAxis dataKey="w" type="number" domain={[0, 1000]} ticks={widthTicks} interval={0} allowDataOverflow width={L}
          axisLine={false} tickLine={false} tick={makeYTick(widthLabels, 200)} />
        <Scatter dataKey="w" fill="#000" isAnimationActive={false}
          shape={(p: any) => <circle cx={p.cx} cy={p.cy} r={1.5} fill="#000" />} />
        <ReferenceArea x1={8} x2={22} y1={0} y2={1000} fill="none" stroke="#000" strokeWidth={1.4} />
      </ComposedChart>
    </div>
  )
}

const txt = { fontFamily: FONT, fill: "#222", fontWeight: 300 }

export default function App() {
  const aRows = toRows(aSegs)
  const cRows = toRows(cSegs)
  return (
    <div style={{ position: "absolute", left: 0, top: 0, width: 602, height: 844, background: "#fff", overflow: "hidden" }}>
      <RangePanel top={0} height={300} mTop={9} mBottom={3} domain={[180, 2600]} rows={aRows} lines={aLines}
        ticks={rangeTicksA} colors={{ k: "#000000", b: "#3c14d2", r: "#ff3c0a" }} />
      <WidthPanel top={290} height={110} mTop={7} mBottom={6} dots={toDots(bCols)} showLabels={false} />
      <RangePanel top={387} height={302} mTop={7} mBottom={7} domain={[180, 3100]} rows={cRows} lines={cLines}
        ticks={rangeTicksC} colors={{ k: "#000000", b: "#3010d0", r: "#ff0000" }} />
      <WidthPanel top={675} height={169} mTop={7} mBottom={66} dots={toDots(dCols)} showLabels={true} />
      <svg width={602} height={844} style={{ position: "absolute", left: 0, top: 0, pointerEvents: "none" }}>
        <g fontSize={17} letterSpacing={1} {...txt}>
          <text transform="translate(23,153) rotate(-90)" textAnchor="middle">Group Range (Km)</text>
          <text transform="translate(23,345) rotate(-90)" textAnchor="middle">Width (Km)</text>
          <text transform="translate(23,538) rotate(-90)" textAnchor="middle">Group Range (Km)</text>
          <text transform="translate(23,730) rotate(-90)" textAnchor="middle">Width (Km)</text>
          <text x={322} y={837} textAnchor="middle">Universal Time (Hours)</text>
        </g>
        <g fontSize={22} {...txt}>
          <text x={570} y={121}>(a)</text>
          <text x={570} y={348}>(b)</text>
          <text x={570} y={506}>(c)</text>
          <text x={571} y={738}>(d)</text>
        </g>
        <g fontSize={17} {...txt}>
          <text x={274} y={49}>−80°</text>
          <text x={274} y={121}>−75°</text>
          <text x={274} y={191}>−70°</text>
          <text x={274} y={271}>−65°</text>
          <text x={397} y={116}>Substorm 2</text>
          <text x={399} y={440}>−80°</text>
          <text x={399} y={492}>−75°</text>
          <text x={399} y={545}>−70°</text>
          <text x={399} y={596}>−65°</text>
          <text x={399} y={651}>−60°</text>
          <text x={201} y={469}>1.5 Hop</text>
          <text x={136} y={581}>0.5 Hop</text>
          <text x={236} y={632}>Substorm 1</text>
        </g>
      </svg>
    </div>
  )
}
